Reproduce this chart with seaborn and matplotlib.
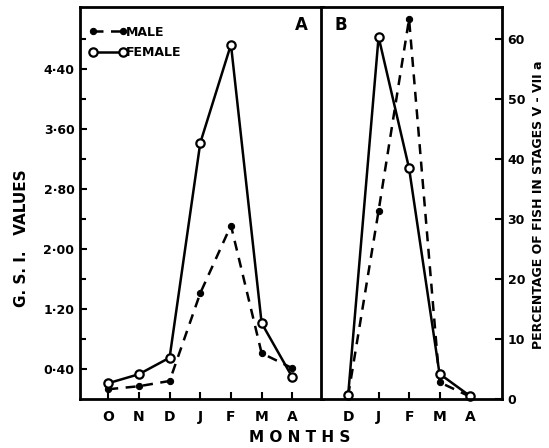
import matplotlib
matplotlib.use("Agg")
import matplotlib.pyplot as plt
import seaborn as sns
import pandas as pd

# Panel A data (G.S.I. values)
months_a = ["O", "N", "D", "J", "F", "M", "A"]
gsi_male = [0.13, 0.17, 0.24, 1.41, 2.31, 0.61, 0.41]
gsi_female = [0.21, 0.33, 0.55, 3.41, 4.72, 1.01, 0.29]

# Panel B data (percentage of fish in stages V - VIIa)
months_b = ["D", "J", "F", "M", "A"]
pct_male = [0.5, 31.4, 63.4, 2.8, 0.4]
pct_female = [0.6, 60.4, 38.5, 4.2, 0.5]

a_ticks = [0.40, 1.20, 2.00, 2.80, 3.60, 4.40]
b_ticks = [0, 10, 20, 30, 40, 50, 60]

sns.set_theme(style="white")
plt.rcParams["font.family"] = ["DejaVu Sans"]
plt.rcParams["font.weight"] = "bold"
for k in ["text.color", "axes.labelcolor", "xtick.color", "ytick.color", "axes.edgecolor"]:
    plt.rcParams[k] = "black"

fig = plt.figure(figsize=(5.49, 4.48), dpi=100)
axA = fig.add_axes([80/549, 1-399/448, 243/549, 392/448])
axB = fig.add_axes([321/549, 1-399/448, 181/549, 392/448])

def draw(ax, cats, male, female):
    xs = list(range(len(cats)))
    dm = pd.DataFrame({"x": xs, "y": male})
    df = pd.DataFrame({"x": xs, "y": female})
    sns.lineplot(data=dm, x="x", y="y", ax=ax, color="black", linestyle=(0, (4, 3)),
                 linewidth=1.8, marker="o", markersize=4.5, markerfacecolor="black",
                 markeredgecolor="black", label="MALE", clip_on=False)
    sns.lineplot(data=df, x="x", y="y", ax=ax, color="black", linestyle="-",
                 linewidth=1.8, marker="o", markersize=6, markerfacecolor="white",
                 markeredgecolor="black", markeredgewidth=1.6, label="FEMALE", clip_on=False)
    ax.set_xticks(xs)
    ax.set_xticklabels(cats, fontsize=10, fontweight="bold")
    ax.set_xlabel("")
    ax.set_ylabel("")
    for s in ax.spines.values():
        s.set_linewidth(2)
        s.set_color("black")

draw(axA, months_a, gsi_male, gsi_female)
draw(axB, months_b, pct_male, pct_female)

# Panel A axes
axA.set_xlim(-0.92, 7.0)
axA.set_ylim(0, 5.22)
axA.set_yticks(a_ticks)
axA.set_yticklabels([f"{v:.2f}".replace(".", "·") for v in a_ticks], fontsize=9, fontweight="bold")
axA.set_yticks([0.8, 1.6, 2.4, 3.2, 4.0, 4.8], minor=True)
axA.tick_params(axis="both", which="both", direction="in", color="black", width=1.5)
axA.tick_params(axis="y", which="major", length=5, left=True, pad=4)
axA.tick_params(axis="y", which="minor", length=4, left=True)
axA.tick_params(axis="x", length=5, bottom=True, pad=8)
axA.set_ylabel("G. S. I.   VALUES", fontsize=11, fontweight="bold")
axA.yaxis.set_label_coords(-0.21, 0.41)
axA.text(0.91, 0.955, "A", transform=axA.transAxes, fontsize=12, fontweight="bold",
         ha="center", va="center")
axA.legend(loc="upper left", frameon=False, numpoints=2, handlelength=3.0,
           handletextpad=0.0, borderaxespad=0.3, labelspacing=0.6,
           prop={"weight": "bold", "size": 9}, bbox_to_anchor=(0.0, 0.975))

# Panel B axes
axB.set_xlim(-0.89, 5.05)
axB.set_ylim(0, 65.4)
axB.yaxis.tick_right()
axB.set_yticks(b_ticks)
axB.set_yticklabels([str(v) for v in b_ticks], fontsize=9, fontweight="bold")
axB.tick_params(axis="both", which="both", direction="in", color="black", width=1.5)
axB.tick_params(axis="y", length=5, right=True, left=False, pad=4)
axB.tick_params(axis="x", length=5, bottom=True, pad=8)
axB.text(0.11, 0.955, "B", transform=axB.transAxes, fontsize=12, fontweight="bold",
         ha="center", va="center")
if axB.get_legend() is not None:
    axB.get_legend().remove()

fig.text(538/549, 1-205/448, "PERCENTAGE OF FISH IN STAGES V - VII a", fontsize=9,
         fontweight="bold", rotation=90, ha="center", va="center")
fig.text(300/549, 1-437/448, "M O N T H S", fontsize=11, fontweight="bold",
         ha="center", va="center")

fig.savefig("out.png", dpi=100)
